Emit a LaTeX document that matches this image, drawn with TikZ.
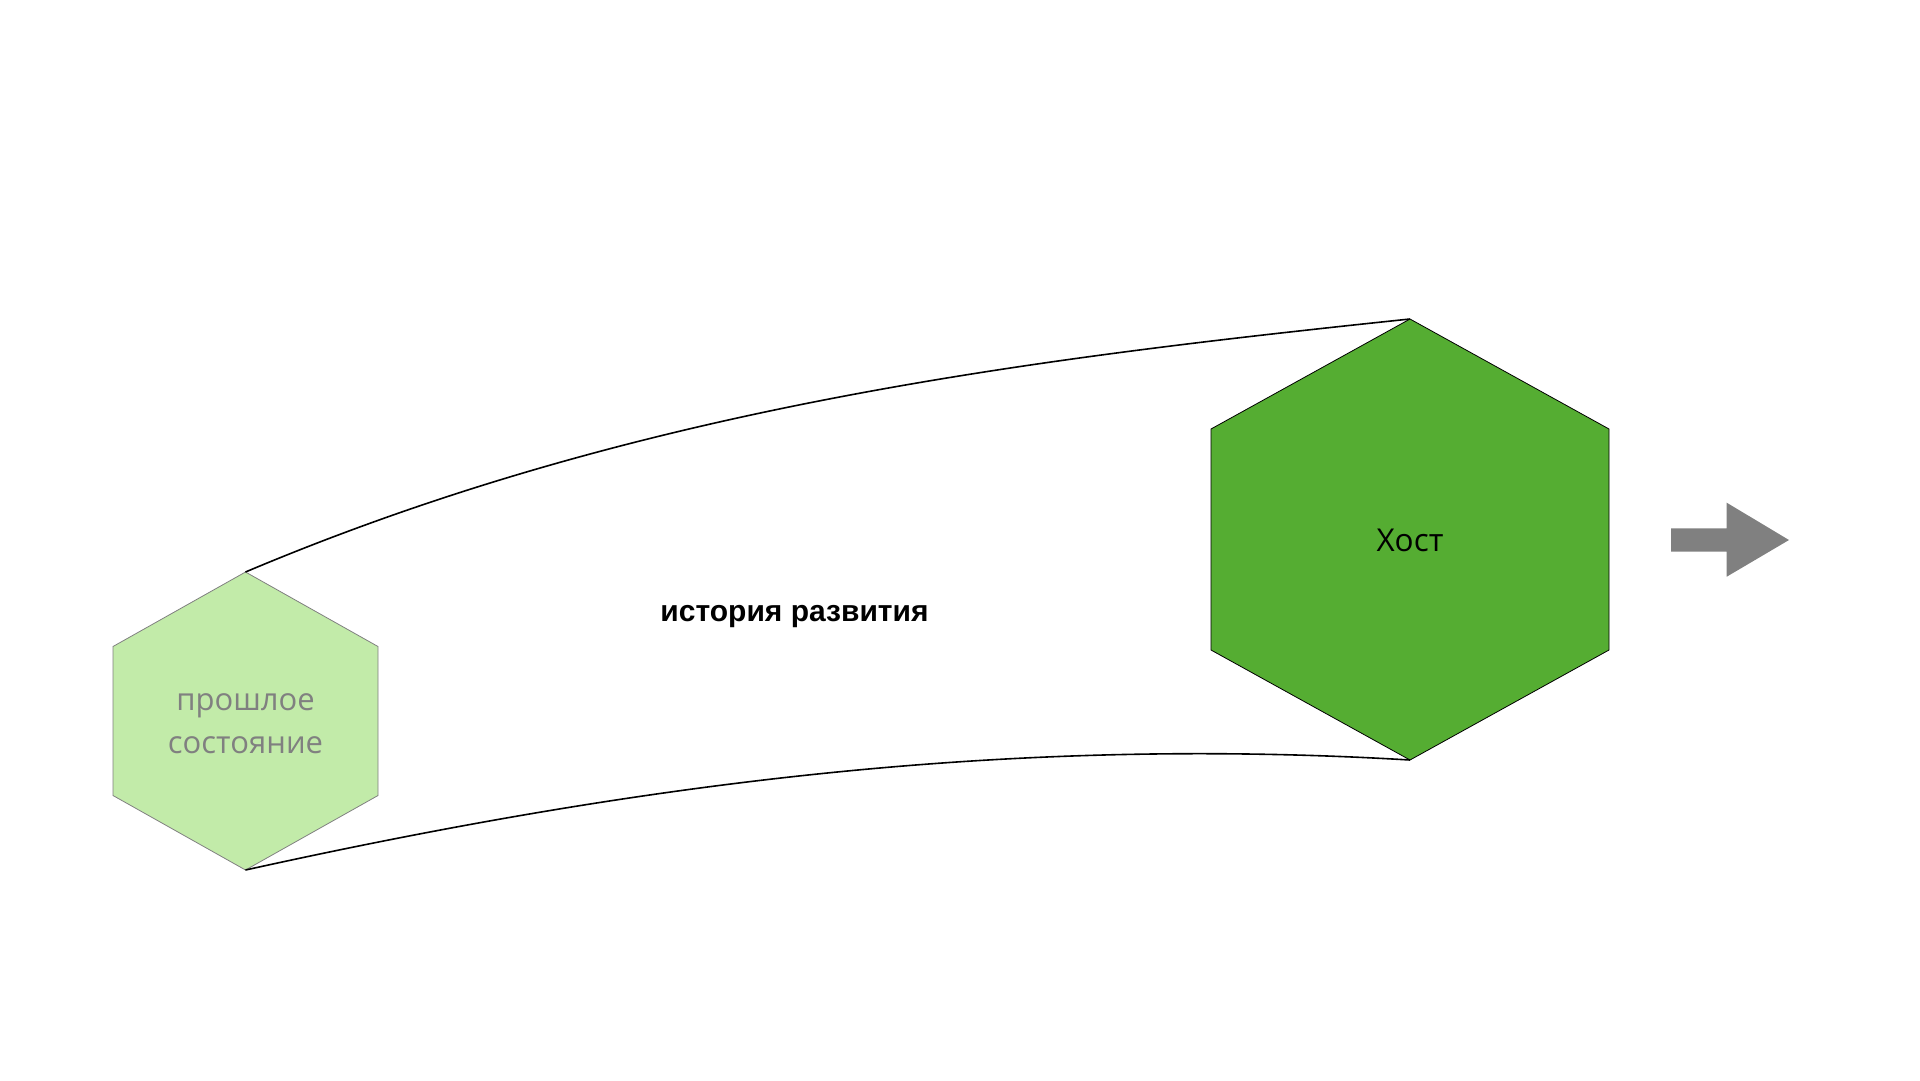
\documentclass[tikz,border=0pt]{standalone}
\usepackage{fontspec}
\setmainfont{Open Sans}
\newfontfamily\labelfont{Liberation Sans}
\usepackage{xcolor}
\definecolor{pastgreen}{RGB}{194,235,169}
\definecolor{hostgreen}{RGB}{85,173,50}
\definecolor{textgrey}{RGB}{128,128,128}

\begin{document}
\begin{tikzpicture}[x=1pt,y=-1pt]
		\useasboundingbox (0,0) rectangle (1920,1080);

		% Koordinaten
		\coordinate (pc) at (245.5,721);
		\coordinate (pt) at (245.5,572);
		\coordinate (pb) at (245.5,870);
		\coordinate (pul) at (113,646.5);
		\coordinate (pll) at (113,795.5);
		\coordinate (pur) at (378,646.5);
		\coordinate (plr) at (378,795.5);

		\coordinate (hc) at (1410,539.5);
		\coordinate (ht) at (1410,319);
		\coordinate (hb) at (1410,760);
		\coordinate (hul) at (1211,429);
		\coordinate (hll) at (1211,650);
		\coordinate (hur) at (1609,429);
		\coordinate (hlr) at (1609,650);

		% Sechsecke
		\filldraw[fill=pastgreen, draw=textgrey, line width=0.8pt]
			(pt) -- (pur) -- (plr) -- (pb) -- (pll) -- (pul) -- cycle;
		\filldraw[fill=hostgreen, draw=black, line width=0.8pt]
			(ht) -- (hur) -- (hlr) -- (hb) -- (hll) -- (hul) -- cycle;

		% Texte
		\node[anchor=base, align=center, text=textgrey, font=\fontsize{31}{43}\selectfont] (past) at (245.5,753) {прошлое\\состояние};
		\node[anchor=base, font=\fontsize{31.5}{38}\selectfont] (host) at (1410,551) {Хост};
		\node[anchor=base, font=\labelfont\bfseries\fontsize{30}{36}\selectfont] (history) at (794.5,621.7) {история развития};

		% Linien
		\draw[black, line width=1.6pt] (pt) .. controls (634,408) and (1020,360) .. (ht);
		\draw[black, line width=1.6pt] (pb) .. controls (644,782) and (1010,736) .. (hb);

		% Pfeil
		\fill[textgrey] (1671,528.3) -- (1726.7,528.3) -- (1726.7,502.7) -- (1789,540)
			-- (1726.7,576.7) -- (1726.7,551.7) -- (1671,551.7) -- cycle;
	\end{tikzpicture}
\end{document}
